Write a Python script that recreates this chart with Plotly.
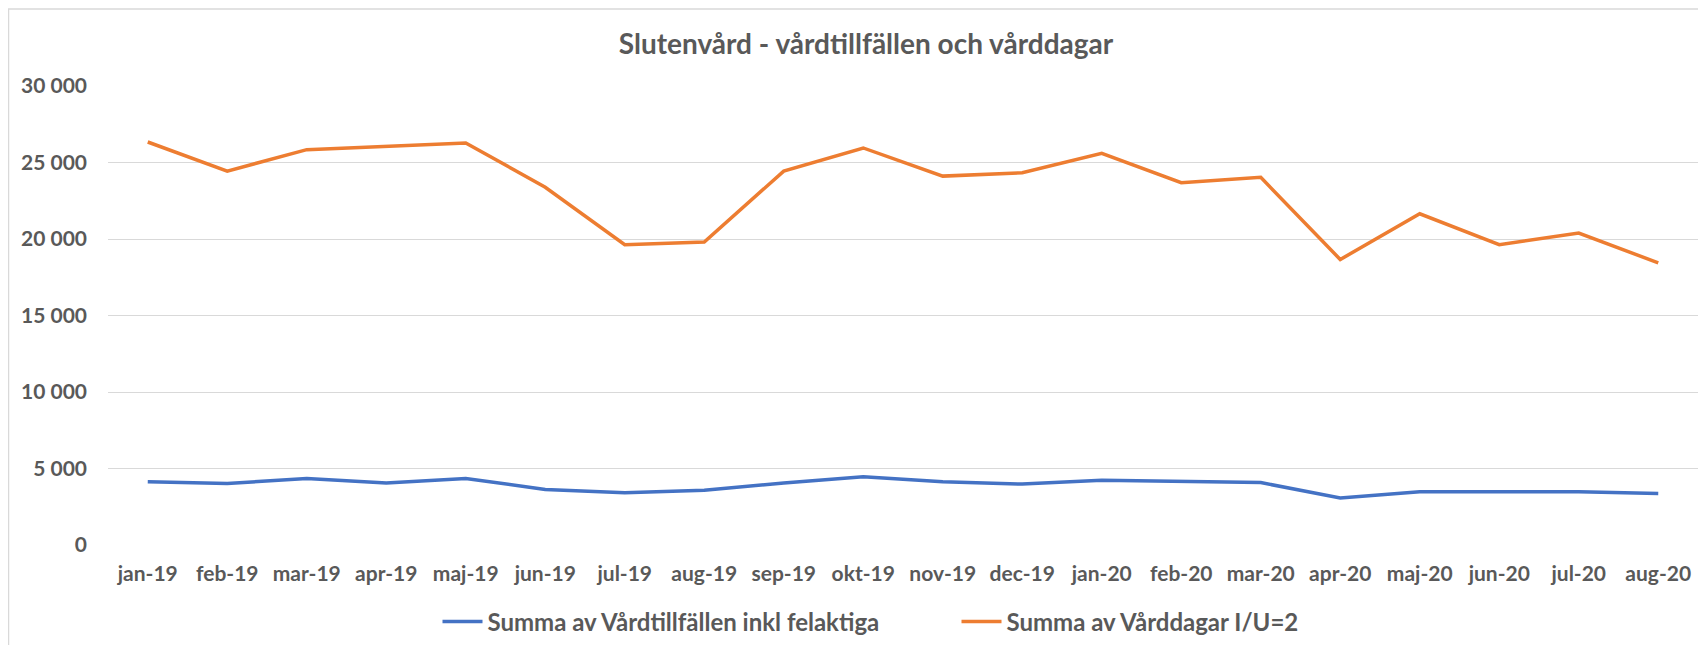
import plotly.graph_objects as go

months = ["jan-19", "feb-19", "mar-19", "apr-19", "maj-19", "jun-19", "jul-19", "aug-19",
          "sep-19", "okt-19", "nov-19", "dec-19", "jan-20", "feb-20", "mar-20", "apr-20",
          "maj-20", "jun-20", "jul-20", "aug-20"]

vardtillfallen = [4130, 4020, 4350, 4060, 4350, 3630, 3410, 3580, 4050, 4460,
                  4130, 3980, 4240, 4170, 4080, 3080, 3480, 3480, 3480, 3370]

varddagar = [26340, 24440, 25840, 26060, 26280, 23380, 19630, 19800, 24440, 25950,
             24110, 24330, 25600, 23680, 24030, 18660, 21650, 19630, 20390, 18440]

name_blue = "Summa av Vårdtillfällen inkl felaktiga"
name_orange = "Summa av Vårddagar I/U=2"
title_text = "Slutenvård - vårdtillfällen och vårddagar"

FONT = "Lato"
GREY = "#595959"

fig = go.Figure()
fig.add_trace(go.Scatter(x=months, y=vardtillfallen, mode="lines", name=name_blue,
                         line=dict(color="#4472C4", width=3.5)))
fig.add_trace(go.Scatter(x=months, y=varddagar, mode="lines", name=name_orange,
                         line=dict(color="#ED7D31", width=3.5)))

# page body adds an 8px margin, so the figure is laid out in (screen - 8) coordinates
OFF = 8
W, H = 1690, 637
L, R, T, B = 100, 0, 78, 100
pw, ph = W - L - R, H - T - B

def px(x):
    return (x - OFF - L) / pw

def py(y):
    return (H - B - (y - OFF)) / ph

fig.update_layout(
    width=W, height=H,
    margin=dict(l=L, r=R, t=T, b=B),
    paper_bgcolor="white", plot_bgcolor="white",
    separators=", ",
    font=dict(family=FONT, color=GREY, size=21, weight="bold"),
    title=dict(text=title_text, x=(866 - OFF) / W, xanchor="center",
               y=1 - (44 - OFF) / H, yanchor="middle",
               font=dict(family=FONT, size=28, color=GREY, weight="bold")),
    showlegend=True,
    legend=dict(orientation="h", x=px(437.5), xanchor="left", y=py(622), yanchor="middle",
                font=dict(family=FONT, size=24, color=GREY, weight="bold"),
                entrywidth=464, entrywidthmode="pixels",
                itemwidth=40, tracegroupgap=0),
    xaxis=dict(type="category", range=[-0.5, len(months) - 0.5], showgrid=False,
               showline=False, zeroline=False, ticks="", ticklabelstandoff=14,
               tickfont=dict(family=FONT, size=21, color=GREY, weight="bold")),
    yaxis=dict(range=[0, 30000], dtick=5000, tickformat=",d", showgrid=True,
               gridcolor="#d9d9d9", gridwidth=1, zeroline=False, showline=False,
               ticks="", ticklabelstandoff=20,
               tickfont=dict(family=FONT, size=21, color=GREY, weight="bold")),
    shapes=[
        dict(type="line", xref="paper", yref="paper",
             x0=px(8), x1=px(1706), y0=py(9), y1=py(9),
             line=dict(color="#d9d9d9", width=1.5)),
        dict(type="line", xref="paper", yref="paper",
             x0=px(8.5), x1=px(8.5), y0=py(9), y1=py(653),
             line=dict(color="#d9d9d9", width=1.5)),
    ],
)

fig.write_html("out.html")
